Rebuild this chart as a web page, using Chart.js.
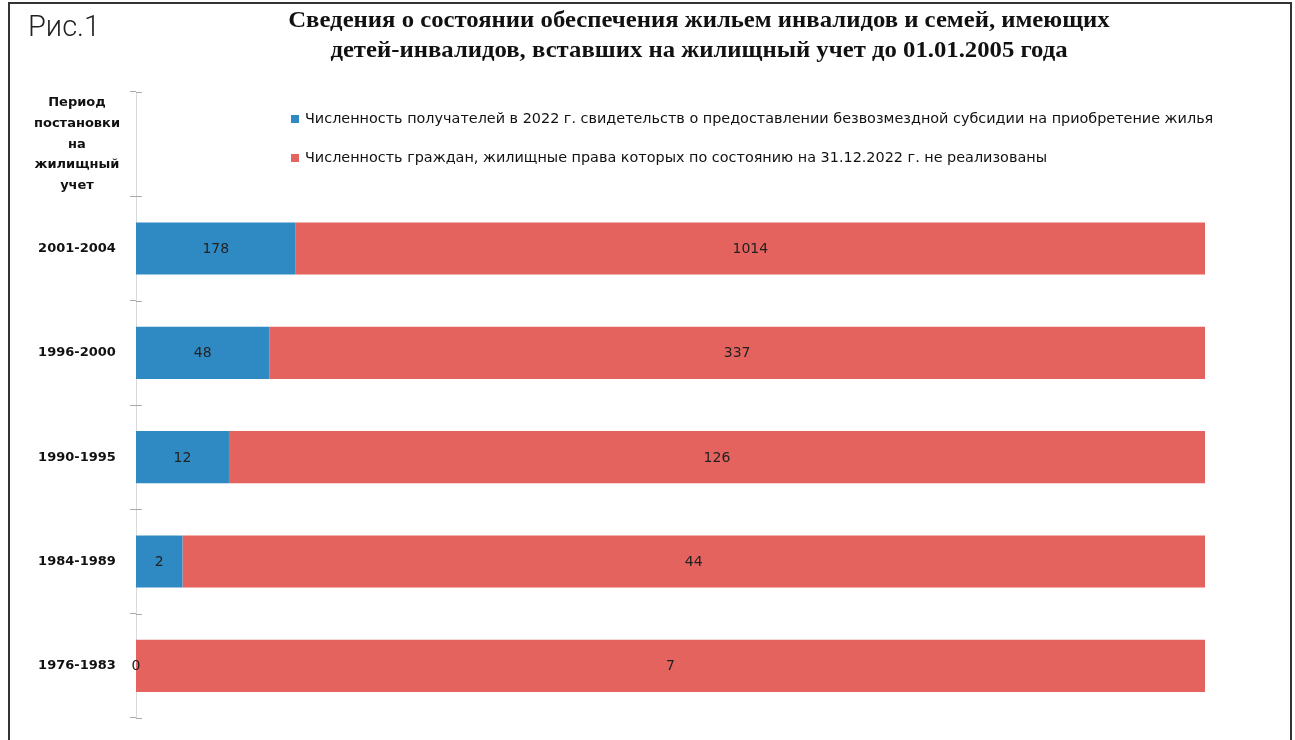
<!DOCTYPE html>
<html>
<head>
<meta charset="utf-8">
<script src="https://cdn.jsdelivr.net/npm/chart.js@4.4.0/dist/chart.umd.min.js"></script>
<style>
    html, body { margin: 0; padding: 0; background: #fff; }
    body { width: 1295px; height: 740px; position: relative; overflow: hidden; }
    #frame {
        position: absolute; left: 8px; top: 2px; width: 1284px; height: 760px;
        border: 2px solid #333; box-sizing: border-box;
    }
    #fig {
        position: absolute; left: 28px; top: 9px;
        font-family: Roboto, sans-serif; font-weight: 300; font-size: 29px; color: #222;
    }
    #title {
        position: absolute; left: 249px; width: 900px; top: 5px;
        text-align: center; font-family: 'Liberation Serif', serif; font-weight: bold;
        font-size: 23px; line-height: 30px; color: #111;
        transform: scaleX(1.075); transform-origin: 450px 0;
    }
    #wrap { position: absolute; left: 0; top: 0; width: 1295px; height: 740px; }
</style>
</head>
<body>
<div id="frame"></div>
<div id="wrap"><canvas id="chart"></canvas></div>
<div id="fig">Рис.1</div>
<div id="title">Сведения о состоянии обеспечения жильем инвалидов и семей, имеющих<br>детей-инвалидов, вставших на жилищный учет до 01.01.2005 года</div>
<script>
// Periods (top row is the axis caption, no bars)
const periods = [
    ['Период', 'постановки', 'на', 'жилищный', 'учет'],
    '2001-2004', '1996-2000', '1990-1995', '1984-1989', '1976-1983'
];
const received = [null, 178, 48, 12, 2, 0];
const notRealized = [null, 1014, 337, 126, 44, 7];

const seriesNames = [
    'Численность получателей в 2022 г. свидетельств о предоставлении безвозмездной субсидии на приобретение жилья',
    'Численность граждан, жилищные права которых по состоянию на 31.12.2022 г. не реализованы'
];
const seriesColors = ['#2f8ac4', '#e4635f'];

// 100% stacked: share of each row
function share(values, i) {
    if (values[i] === null) return null;
    const total = received[i] + notRealized[i];
    return values[i] / total * 100;
}
const receivedPct = received.map((v, i) => share(received, i));
const notRealizedPct = notRealized.map((v, i) => share(notRealized, i));

const valueLabels = {
    id: 'valueLabels',
    afterDatasetsDraw(chart) {
        const ctx = chart.ctx;
        const raws = [received, notRealized];
        ctx.save();
        ctx.font = '14px "DejaVu Sans"';
        ctx.fillStyle = '#222';
        ctx.textAlign = 'center';
        ctx.textBaseline = 'middle';
        chart.data.datasets.forEach((ds, di) => {
            chart.getDatasetMeta(di).data.forEach((bar, i) => {
                if (raws[di][i] === null) return;
                ctx.fillText(String(raws[di][i]), (bar.x + bar.base) / 2, bar.y + 1);
            });
        });
        ctx.restore();
    }
};

// legend inside the empty top band + tick marks crossing the axis
const innerLegend = {
    id: 'innerLegend',
    afterDraw(chart) {
        const ctx = chart.ctx;
        const y = chart.scales.y;
        ctx.save();
        ctx.strokeStyle = '#aaa';
        ctx.lineWidth = 1;
        for (let i = 0; i <= periods.length; i++) {
            const py = Math.round(y.getPixelForValue(i - 0.5)) + 0.5;
            ctx.beginPath();
            ctx.moveTo(y.right, py);
            ctx.lineTo(y.right + 6, py);
            ctx.stroke();
        }
        ctx.font = '14.4px "DejaVu Sans"';
        ctx.textBaseline = 'middle';
        chart.data.datasets.forEach((ds, i) => {
            const ly = 119 + i * 39;
            ctx.fillStyle = ds.backgroundColor;
            ctx.fillRect(291, ly - 4, 8, 8);
            ctx.fillStyle = '#111';
            ctx.fillText(ds.label, 305, ly);
        });
        ctx.restore();
    }
};

new Chart(document.getElementById('chart'), {
    type: 'bar',
    data: {
        labels: periods,
        datasets: [
            { label: seriesNames[0], data: receivedPct, backgroundColor: seriesColors[0] },
            { label: seriesNames[1], data: notRealizedPct, backgroundColor: seriesColors[1] }
        ]
    },
    options: {
        indexAxis: 'y',
        responsive: true,
        maintainAspectRatio: false,
        animation: false,
        layout: { padding: { top: 92, bottom: 22, right: 90, left: 0 } },
        datasets: { bar: { categoryPercentage: 1, barPercentage: 0.5 } },
        scales: {
            x: { stacked: true, min: 0, max: 100, display: false },
            y: {
                stacked: true,
                afterFit(scale) {
                    scale.width = 136;
                    scale.paddingTop = 0;
                    scale.paddingBottom = 0;
                },
                grid: { drawOnChartArea: false, tickLength: 6, color: '#aaa', offset: true },
                border: { color: '#d9d9d9', width: 1 },
                ticks: {
                    crossAlign: 'center',
                    padding: 10,
                    color: '#111',
                    font: { family: 'DejaVu Sans', weight: 'bold', size: 13, lineHeight: 1.6 },
                    autoSkip: false
                }
            }
        },
        plugins: {
            legend: { display: false },
            tooltip: { enabled: false }
        }
    },
    plugins: [valueLabels, innerLegend]
});
</script>
</body>
</html>
